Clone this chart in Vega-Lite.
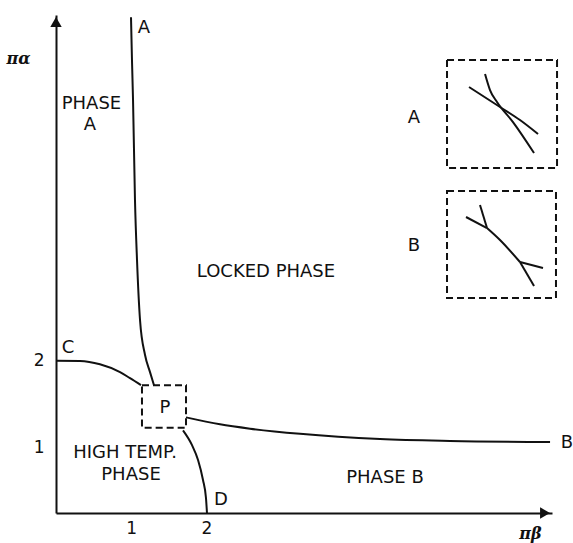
{
  "$schema": "https://vega.github.io/schema/vega-lite/v6.json",
  "width": 496,
  "height": 498,
  "autosize": {"type": "none"},
  "padding": {"left": 56, "top": 15, "right": 21, "bottom": 30},
  "background": "white",
  "config": {
    "view": {"stroke": null},
    "font": "DejaVu Sans",
    "axis": {"grid": false, "ticks": false, "domainColor": "#111", "domainWidth": 2, "labelColor": "#111", "labelFontSize": 17, "labelFont": "DejaVu Sans", "titleColor": "#111", "format": "d"}
  },
  "datasets": {
    "curves": [
      {"curve": "A", "o": 1, "x": 0.998, "y": 5.95},
      {"curve": "A", "o": 2, "x": 1.011, "y": 5.46},
      {"curve": "A", "o": 3, "x": 1.025, "y": 5.0},
      {"curve": "A", "o": 4, "x": 1.051, "y": 3.85},
      {"curve": "A", "o": 5, "x": 1.078, "y": 3.16},
      {"curve": "A", "o": 6, "x": 1.118, "y": 2.47},
      {"curve": "A", "o": 7, "x": 1.184, "y": 2.07},
      {"curve": "A", "o": 8, "x": 1.251, "y": 1.87},
      {"curve": "A", "o": 9, "x": 1.304, "y": 1.72},
      {"curve": "C", "o": 1, "x": 0.0, "y": 2.0},
      {"curve": "C", "o": 2, "x": 0.319, "y": 1.998},
      {"curve": "C", "o": 3, "x": 0.585, "y": 1.96},
      {"curve": "C", "o": 4, "x": 0.852, "y": 1.87},
      {"curve": "C", "o": 5, "x": 0.985, "y": 1.8},
      {"curve": "C", "o": 6, "x": 1.131, "y": 1.72},
      {"curve": "B", "o": 1, "x": 1.73, "y": 1.35},
      {"curve": "B", "o": 2, "x": 2.182, "y": 1.27},
      {"curve": "B", "o": 3, "x": 2.582, "y": 1.22},
      {"curve": "B", "o": 4, "x": 3.247, "y": 1.16},
      {"curve": "B", "o": 5, "x": 4.311, "y": 1.1},
      {"curve": "B", "o": 6, "x": 5.243, "y": 1.078},
      {"curve": "B", "o": 7, "x": 6.574, "y": 1.066},
      {"curve": "D", "o": 1, "x": 1.69, "y": 1.2},
      {"curve": "D", "o": 2, "x": 1.81, "y": 1.03},
      {"curve": "D", "o": 3, "x": 1.89, "y": 0.86},
      {"curve": "D", "o": 4, "x": 1.956, "y": 0.63},
      {"curve": "D", "o": 5, "x": 1.996, "y": 0.42},
      {"curve": "D", "o": 6, "x": 2.009, "y": 0.25},
      {"curve": "ia1", "o": 1, "x": 5.496, "y": 5.149},
      {"curve": "ia1", "o": 2, "x": 5.908, "y": 4.919},
      {"curve": "ia1", "o": 3, "x": 6.174, "y": 4.769},
      {"curve": "ia1", "o": 4, "x": 6.414, "y": 4.608},
      {"curve": "ia2", "o": 1, "x": 5.709, "y": 5.298},
      {"curve": "ia2", "o": 2, "x": 5.775, "y": 5.114},
      {"curve": "ia2", "o": 3, "x": 5.868, "y": 4.976},
      {"curve": "ia2", "o": 4, "x": 6.081, "y": 4.746},
      {"curve": "ia2", "o": 5, "x": 6.361, "y": 4.39},
      {"curve": "ib1", "o": 1, "x": 5.456, "y": 3.654},
      {"curve": "ib1", "o": 2, "x": 5.735, "y": 3.527},
      {"curve": "ib2", "o": 1, "x": 5.642, "y": 3.792},
      {"curve": "ib2", "o": 2, "x": 5.735, "y": 3.527},
      {"curve": "ib3", "o": 1, "x": 5.735, "y": 3.527},
      {"curve": "ib3", "o": 2, "x": 5.908, "y": 3.389},
      {"curve": "ib3", "o": 3, "x": 6.174, "y": 3.136},
      {"curve": "ib4", "o": 1, "x": 6.174, "y": 3.136},
      {"curve": "ib4", "o": 2, "x": 6.48, "y": 3.067},
      {"curve": "ib5", "o": 1, "x": 6.174, "y": 3.136},
      {"curve": "ib5", "o": 2, "x": 6.361, "y": 2.86}
    ],
    "boxes": [
      {"box": "P", "x": 1.144, "x2": 1.73, "y": 1.72, "y2": 1.23},
      {"box": "A", "x": 5.203, "x2": 6.667, "y": 5.459, "y2": 4.217},
      {"box": "B", "x": 5.203, "x2": 6.653, "y": 3.953, "y2": 2.722}
    ],
    "labels": [
      {"text": "A", "x": 1.171, "y": 5.827},
      {"text": "PHASE", "x": 0.472, "y": 4.953},
      {"text": "A", "x": 0.452, "y": 4.712},
      {"text": "LOCKED PHASE", "x": 2.794, "y": 3.021},
      {"text": "C", "x": 0.16, "y": 2.147},
      {"text": "P", "x": 1.45, "y": 1.457},
      {"text": "HIGH TEMP.", "x": 0.918, "y": 0.94},
      {"text": "PHASE", "x": 0.998, "y": 0.687},
      {"text": "D", "x": 2.196, "y": 0.4},
      {"text": "PHASE B", "x": 4.378, "y": 0.652},
      {"text": "B", "x": 6.8, "y": 1.055},
      {"text": "A", "x": 4.764, "y": 4.798},
      {"text": "B", "x": 4.764, "y": 3.326}
    ],
    "arrows": [
      {"dir": "x", "shape": "triangle-right", "x": 6.507, "y": 0.25},
      {"dir": "y", "shape": "triangle-up", "x": 0.0, "y": 5.896}
    ]
  },
  "layer": [
    {
      "data": {"name": "curves"},
      "mark": {"type": "line", "color": "#111", "strokeWidth": 2, "interpolate": "monotone"},
      "encoding": {
        "x": {"field": "x", "type": "quantitative", "scale": {"domain": [0, 6.6], "nice": false, "zero": false},
          "axis": {"values": [1, 2], "labelPadding": 7, "title": "πβ", "titleAngle": 0, "titleX": 474, "titleY": 20, "titleAlign": "center", "titleBaseline": "middle", "titleFontSize": 16, "titleFontStyle": "italic", "titleFontWeight": "bold", "titleFont": "DejaVu Serif"}},
        "y": {"field": "y", "type": "quantitative", "scale": {"domain": [0.25, 5.977], "nice": false, "zero": false},
          "axis": {"values": [1, 2], "labelPadding": 12, "title": "πα", "titleAngle": 0, "titleX": -38, "titleY": 43, "titleAlign": "center", "titleBaseline": "middle", "titleFontSize": 16, "titleFontStyle": "italic", "titleFontWeight": "bold", "titleFont": "DejaVu Serif"}},
        "detail": {"field": "curve"},
        "order": {"field": "o"}
      }
    },
    {
      "data": {"name": "boxes"},
      "mark": {"type": "rect", "fill": null, "stroke": "#111", "strokeWidth": 2, "strokeDash": [7, 4]},
      "encoding": {
        "x": {"field": "x", "type": "quantitative"},
        "x2": {"field": "x2"},
        "y": {"field": "y", "type": "quantitative"},
        "y2": {"field": "y2"}
      }
    },
    {
      "data": {"name": "labels"},
      "mark": {"type": "text", "fontSize": 18, "color": "#111", "align": "center", "baseline": "middle", "font": "DejaVu Sans"},
      "encoding": {
        "x": {"field": "x", "type": "quantitative"},
        "y": {"field": "y", "type": "quantitative"},
        "text": {"field": "text"}
      }
    },
    {
      "data": {"name": "arrows"},
      "mark": {"type": "point", "filled": true, "color": "#111", "size": 130, "opacity": 1},
      "encoding": {
        "x": {"field": "x", "type": "quantitative"},
        "y": {"field": "y", "type": "quantitative"},
        "shape": {"field": "shape", "type": "nominal", "scale": {"domain": ["triangle-right", "triangle-up"], "range": ["triangle-right", "triangle-up"]}, "legend": null}
      }
    }
  ]
}
